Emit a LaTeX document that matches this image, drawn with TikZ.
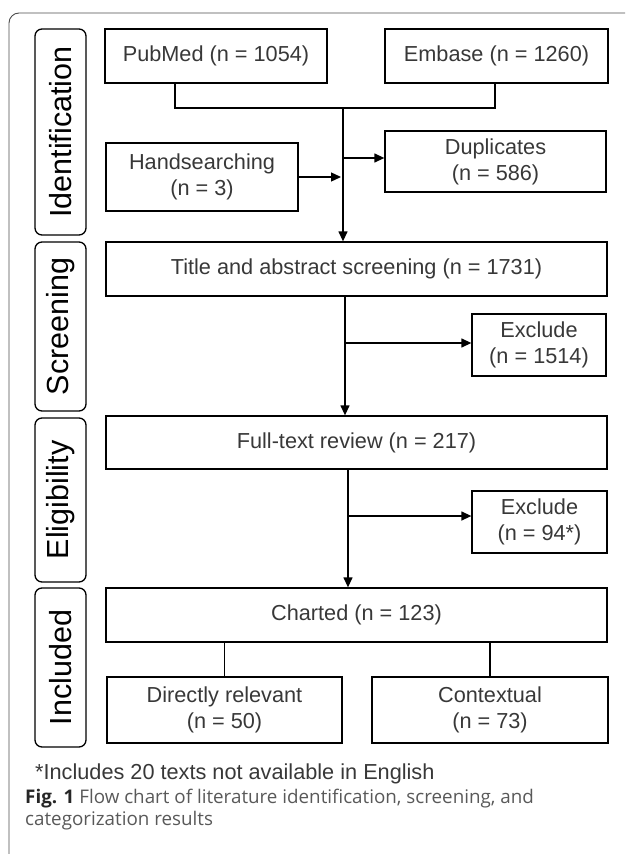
\documentclass[tikz,border=0pt]{standalone}
\usepackage{fontspec}
\setmainfont{Liberation Sans}
\newfontfamily\capfont{Open Sans}
\usetikzlibrary{arrows.meta}

\begin{document}
\begin{tikzpicture}[x=1pt,y=-1pt,
  box/.style={draw,line width=1.3pt,text=black!78,align=center,inner sep=0pt,font=\fontsize{21.7}{26}\selectfont},
  stage/.style={draw,line width=1.3pt,rounded corners=7pt,rotate=90,minimum height=51,inner sep=0pt,font=\fontsize{30.5}{36}\selectfont},
  arr/.style={line width=1.3pt,-{Triangle[length=10pt,width=9pt]}},
  link/.style={line width=1.3pt}]
\useasboundingbox (0,0) rectangle (625,854);
\draw[black!70,line width=0.9pt,rounded corners=10pt] (9,854) -- (9,13) -- (625,13);
\foreach \n/\t/\a/\b in {id/Identification/29/235, scr/Screening/242/411, eli/Eligibility/418/582, inc/Included/588/747}
  \node[stage,minimum width={\b-\a}] (\n) at (60.5,{(\a+\b)/2}) {\t};

\node[box,minimum width=222,minimum height=54] (pub) at (216,56) {PubMed (n = 1054)};
\node[box,minimum width=223,minimum height=54] (emb) at (496.5,56) {Embase (n = 1260)};
\node[box,minimum width=192,minimum height=68] (hand) at (202,177) {Handsearching\\(n = 3)};
\node[box,minimum width=221,minimum height=61] (dup) at (495.5,161.5) {Duplicates\\(n = 586)};
\node[box,minimum width=501,minimum height=54] (title) at (356.5,269) {Title and abstract screening (n = 1731)};
\node[box,minimum width=134,minimum height=62] (ex1) at (539,345) {Exclude\\(n = 1514)};
\node[box,minimum width=501,minimum height=53] (full) at (356.5,442.5) {Full-text review (n = 217)};
\node[box,minimum width=135,minimum height=62] (ex2) at (539.5,522) {Exclude\\(n = 94*)};
\node[box,minimum width=501,minimum height=54] (chart) at (356.5,615) {Charted (n = 123)};
\node[box,minimum width=235,minimum height=66] (dir) at (224.5,710) {Directly relevant\\(n = 50)};
\node[box,minimum width=236,minimum height=66] (ctx) at (490,710) {Contextual\\(n = 73)};

\coordinate (jl) at (175,108);
\coordinate (jr) at (495,108);
\coordinate (j) at (343,108);
\coordinate (d) at (343,158);
\coordinate (s1) at (345,343);
\coordinate (s2) at (348,516);
\draw[link] (pub.south -| jl) -- (jl) -- (jr) -- (emb.south -| jr);
\draw[arr] (j) -- (title.north -| j);
\draw[arr,shorten >=2pt] (hand.east) -- (hand.east -| j);
\draw[arr] (d) -- (d -| dup.west);
\draw[arr] (title.south -| s1) -- (full.north -| s1);
\draw[arr] (s1) -- (s1 -| ex1.west);
\draw[arr] (full.south -| s2) -- (chart.north -| s2);
\draw[arr] (s2) -- (s2 -| ex2.west);
\draw[link] (chart.south -| dir.north) -- (dir.north);
\draw[link] (chart.south -| ctx.north) -- (ctx.north);

\node[anchor=base west,inner sep=0pt,text=black!78,font=\fontsize{21.7}{26}\selectfont] (note) at (35,779) {*Includes 20 texts not available in English};
\node[anchor=north west,align=left,inner sep=0pt,text=black!65,font=\capfont\fontsize{18.8}{22}\selectfont] (cap) at (25,789)
  {\textbf{\color{black!85}Fig. 1} Flow chart of literature identification, screening, and\\categorization results};
\end{tikzpicture}
\end{document}
